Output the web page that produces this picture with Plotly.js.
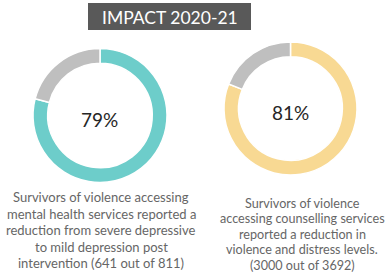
<!DOCTYPE html>
<html>
<head>
<meta charset="utf-8">
<script src="https://cdn.plot.ly/plotly-3.0.1.min.js"></script>
<style>html,body{margin:0;padding:0;background:#fff;}#chart{width:387px;height:273px;}</style>
</head>
<body>
<div id="chart"></div>
<script>
const title = "IMPACT 2020-21";
const sliceLabels = ["Reported reduction", "Other"];
const leftValues = [79, 21];
const rightValues = [81, 19];
const leftPct = "79%";
const rightPct = "81%";
const leftCaption = ["Survivors of violence accessing", "mental health services reported a", "reduction from severe depressive", "to mild depression post", "intervention (641 out of 811)"];
const rightCaption = ["Survivors of violence", "accessing counselling services", "reported a reduction in", "violence and distress levels.", "(3000 out of 3692)"];

const W = 387, H = 273;
const fx = p => p / W, fy = p => 1 - p / H;
const font = "Lato, 'Open Sans', sans-serif";

const traces = [
  {type: 'pie', values: leftValues, labels: sliceLabels, sort: false, direction: 'clockwise', rotation: 0,
   hole: 0.78, textinfo: 'none', hoverinfo: 'label+percent',
   marker: {colors: ['#6dcdca', '#bfbfbf'], line: {color: '#ffffff', width: 1.5}},
   domain: {x: [fx(33), fx(167)], y: [fy(183), fy(48)]}},
  {type: 'pie', values: rightValues, labels: sliceLabels, sort: false, direction: 'clockwise', rotation: 0,
   hole: 0.78, textinfo: 'none', hoverinfo: 'label+percent',
   marker: {colors: ['#f8d993', '#bfbfbf'], line: {color: '#ffffff', width: 1.5}},
   domain: {x: [fx(224), fx(357)], y: [fy(175), fy(42)]}}
];

const annotations = [
  {text: title, x: fx(170), y: fy(17), xref: 'paper', yref: 'paper', showarrow: false,
   font: {family: font, size: 17.5, color: '#ffffff'}, xanchor: 'center', yanchor: 'middle'},
  {text: leftPct, x: fx(100), y: fy(119), xref: 'paper', yref: 'paper', showarrow: false,
   font: {family: font, size: 19, color: '#262626'}, xanchor: 'center', yanchor: 'middle'},
  {text: rightPct, x: fx(290), y: fy(112), xref: 'paper', yref: 'paper', showarrow: false,
   font: {family: font, size: 19, color: '#262626'}, xanchor: 'center', yanchor: 'middle'}
];
leftCaption.forEach((t, i) => annotations.push({text: t, x: fx(101), y: fy(197 + 16.6 * i), xref: 'paper', yref: 'paper',
  showarrow: false, font: {family: font, size: 13, color: '#666666'}, xanchor: 'center', yanchor: 'middle'}));
rightCaption.forEach((t, i) => annotations.push({text: t, x: fx(302), y: fy(203 + 15.6 * i), xref: 'paper', yref: 'paper',
  showarrow: false, font: {family: font, size: 12.6, color: '#666666'}, xanchor: 'center', yanchor: 'middle'}));

const layout = {
  width: W, height: H, margin: {l: 0, r: 0, t: 0, b: 0},
  paper_bgcolor: '#ffffff', plot_bgcolor: '#ffffff', showlegend: false,
  shapes: [{type: 'rect', xref: 'paper', yref: 'paper', x0: fx(88), x1: fx(251), y0: fy(30), y1: fy(3),
    fillcolor: '#595959', line: {width: 0}, layer: 'below'}],
  annotations: annotations
};
Plotly.newPlot('chart', traces, layout, {displayModeBar: false, staticPlot: true});
</script>
</body>
</html>
